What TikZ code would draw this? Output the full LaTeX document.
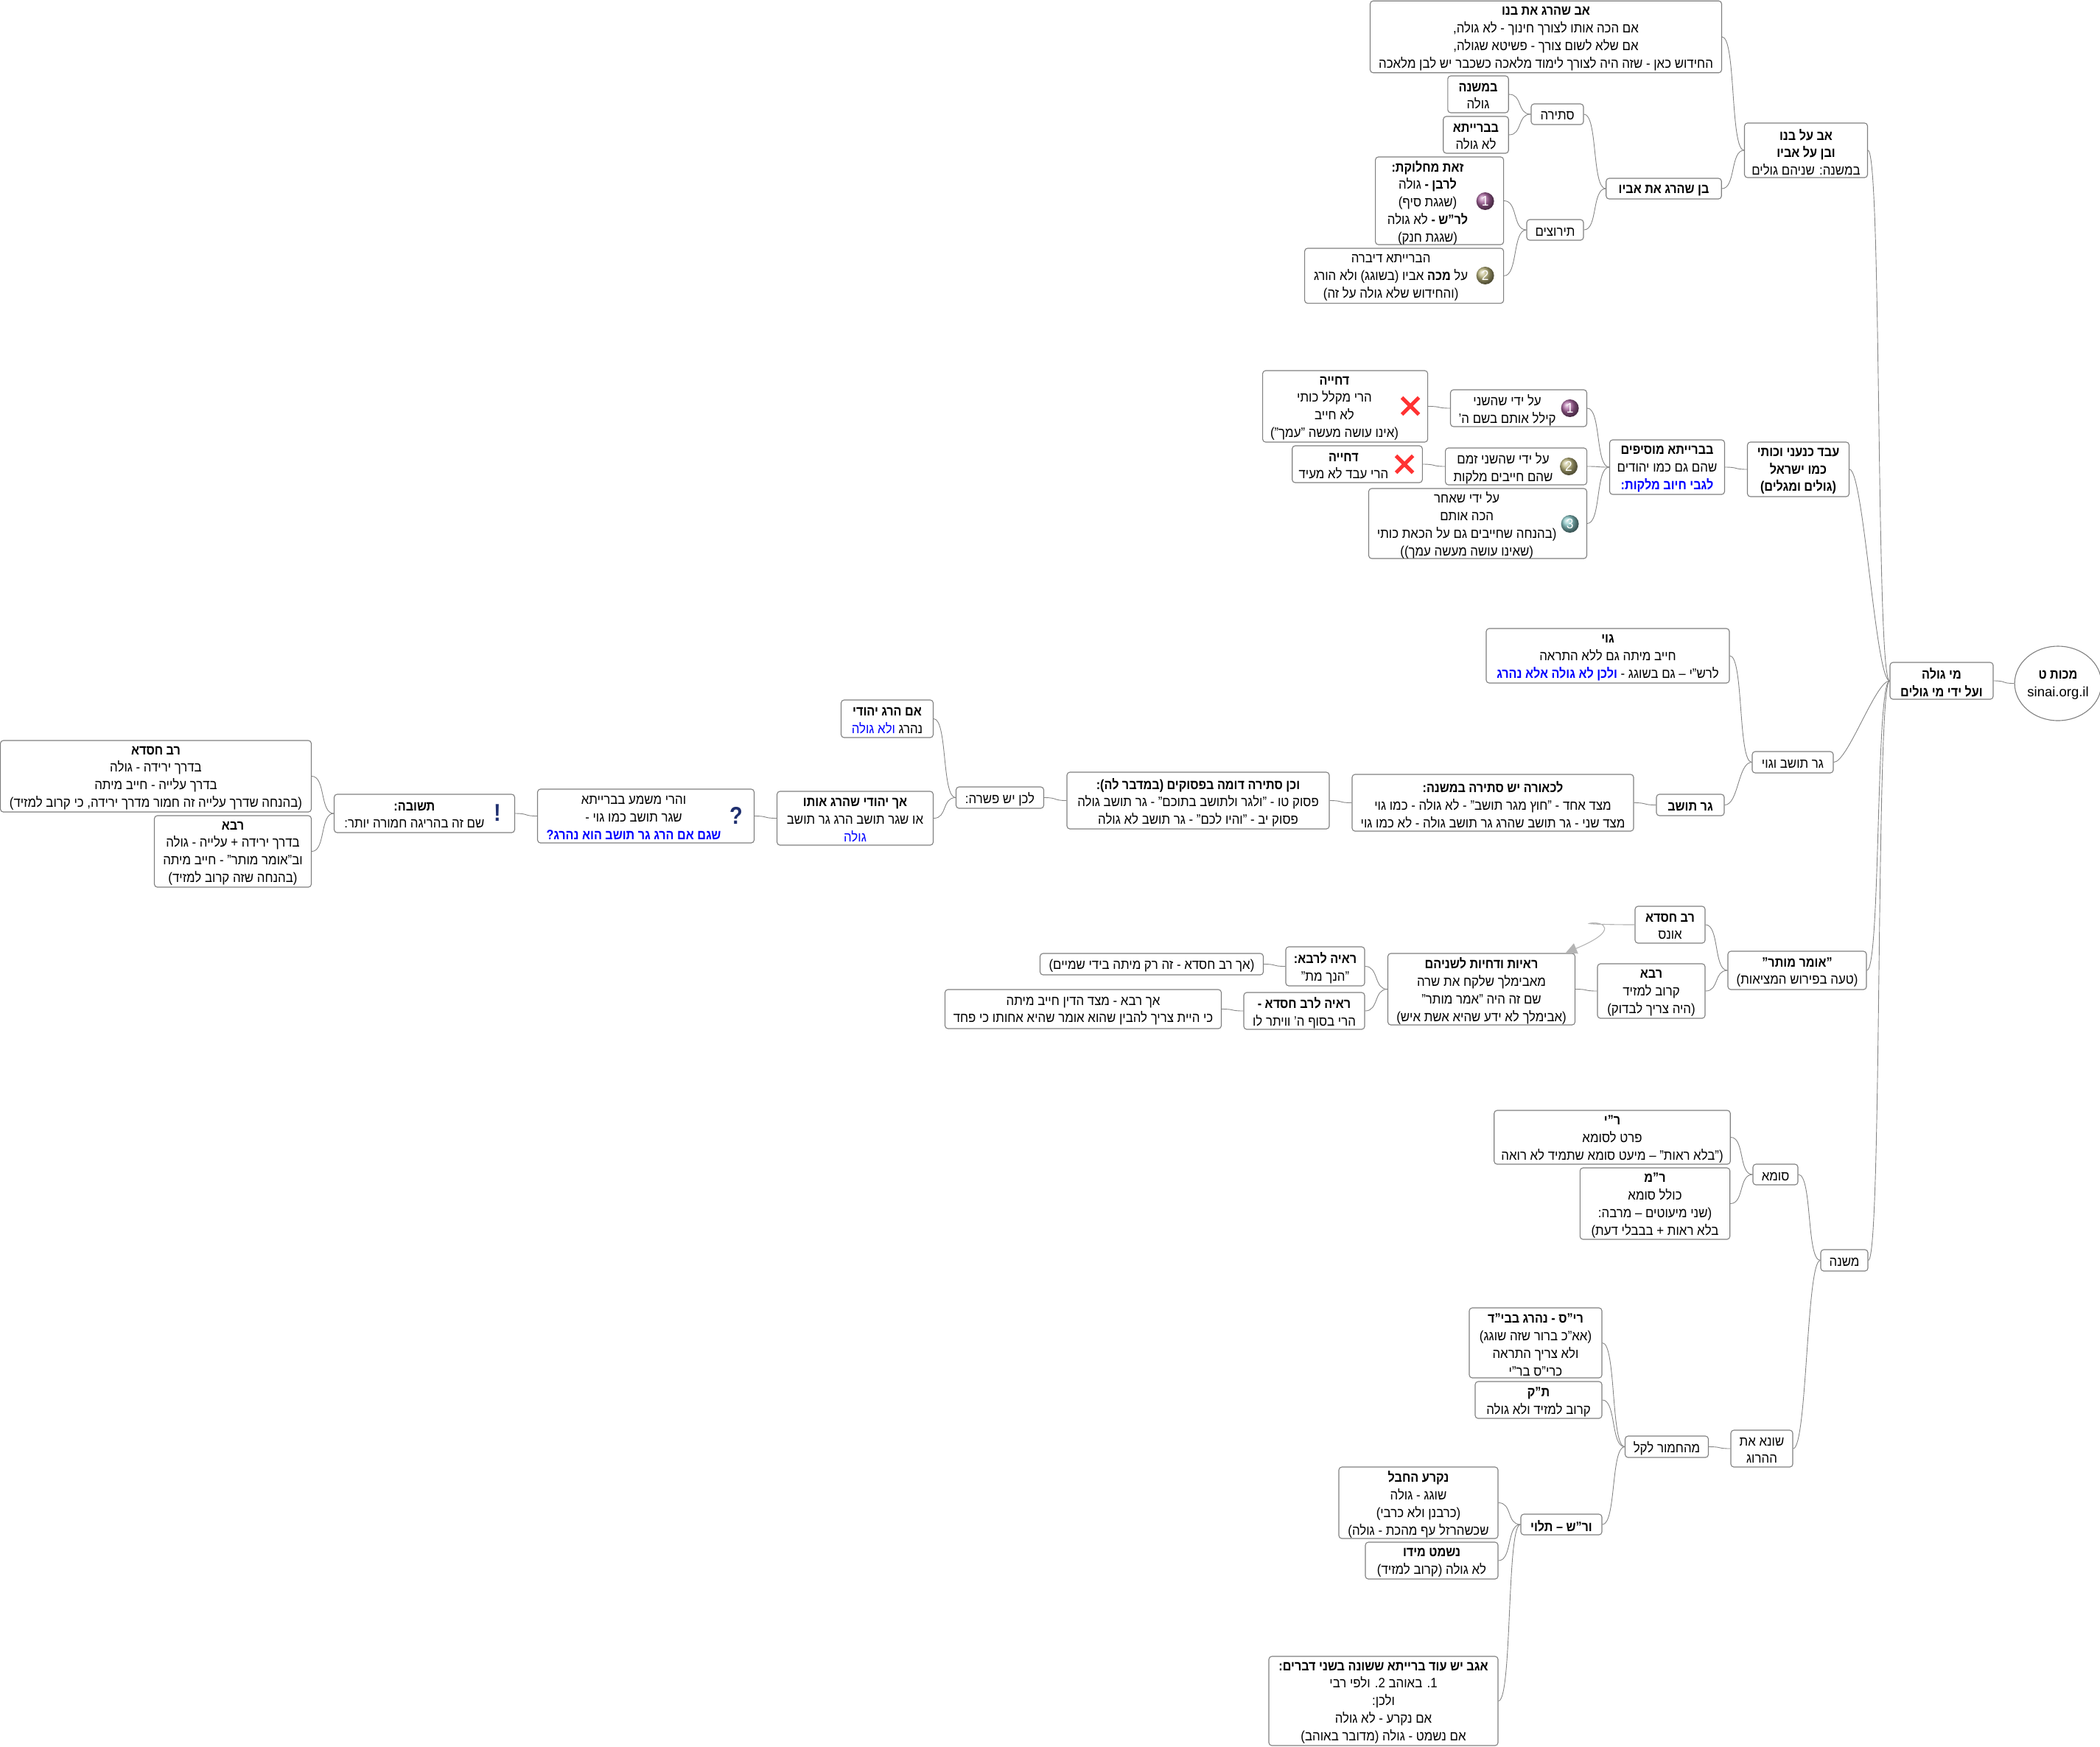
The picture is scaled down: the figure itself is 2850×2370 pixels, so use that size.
\documentclass[tikz,border=0pt]{standalone}
\usepackage{fontspec}
\setmainfont{Liberation Sans}[Script=Hebrew, FakeStretch=0.91, BoldFeatures={FakeStretch=0.875}]
\newfontfamily\sitefont{Liberation Sans}
\usetikzlibrary{arrows.meta,shapes.geometric,shapes.misc}
\TeXXeTstate=1
\definecolor{boxgray}{HTML}{808080}
\definecolor{linkgray}{HTML}{858585}
\definecolor{jumpgray}{HTML}{B4B4B4}
\definecolor{markblue}{HTML}{1F2F6F}
\definecolor{ballone}{HTML}{A8649E}
\definecolor{balltwo}{HTML}{B8B27A}
\definecolor{ballthree}{HTML}{86C4C4}
\newcommand{\lowerit}[1]{\raisebox{-2.5pt}[\height][\depth]{#1}}
\newcommand{\heb}[1]{\lowerit{\beginR #1\endR}}
\newcommand{\hebb}[1]{\lowerit{\beginR\textbf{#1}\endR}}
\newcommand{\kachol}[1]{\beginL\textcolor{blue}{\beginR #1\endR}\endL}

\begin{document}
\begin{tikzpicture}[x=1pt, y=-1pt,
  topic/.style={draw=boxgray, fill=white, rounded corners=4pt, line width=1.1pt,
    align=center, inner sep=0pt, font=\fontsize{18.5}{23.8}\selectfont},
  bodytext/.style={align=center, inner sep=0pt, font=\fontsize{18.5}{23.8}\selectfont},
  link/.style={draw=linkgray, line width=0.9pt, out=0, in=180, distance=19pt},
  numball/.style={circle, inner sep=0pt, minimum size=24pt, text=white,
    font=\fontsize{19}{19}\selectfont},
  redx/.style={cross out, draw=red!80!white, line width=5pt, minimum size=18pt, inner sep=0pt},
  signmark/.style={inner sep=0pt, text=markblue, font=\fontsize{33}{33}\selectfont\bfseries}]
  \useasboundingbox (0,0) rectangle (2850,2370);

  % שורש
  \node[topic, ellipse, minimum width=112pt, minimum height=101pt] (root) at (2793,927.5)
    {\hebb{מכות ט}\\\lowerit{\sitefont sinai.org.il}};
  \node[topic, minimum width=140pt, minimum height=50pt] (migole) at (2635,924)
    {\hebb{מי גולה}\\\hebb{ועל ידי מי גולים}};

  % אב על בנו
  \node[topic, minimum width=167pt, minimum height=74pt] (abbeno) at (2451,204)
    {\hebb{אב על בנו}\\\hebb{ובן על אביו}\\\heb{במשנה: שניהם גולים}};
  \node[topic, minimum width=477pt, minimum height=97.5pt] (abharag) at (2098,50)
    {\hebb{אב שהרג את בנו}\\\heb{אם הכה אותו לצורך חינוך - לא גולה,}\\\heb{אם שלא לשום צורך - פשיטא שגולה,}\\\heb{החידוש כאן - שזה היה לצורך לימוד מלאכה כשכבר יש לבן מלאכה}};
  \node[topic, minimum width=156.5pt, minimum height=28pt] (benharag) at (2258,256)
    {\hebb{בן שהרג את אביו}};
  \node[topic, minimum width=71pt, minimum height=28pt] (stira) at (2113.5,155) {\heb{סתירה}};
  \node[topic, minimum width=77pt, minimum height=28pt] (tirutz) at (2110.5,312) {\heb{תירוצים}};
  \node[topic, minimum width=82.4pt, minimum height=50pt] (mishnaa) at (2006,128)
    {\hebb{במשנה}\\\heb{גולה}};
  \node[topic, minimum width=88.5pt, minimum height=50pt] (baraitaa) at (2003,183)
    {\hebb{בברייתא}\\\heb{לא גולה}};
  \node[topic, minimum width=174pt, minimum height=119pt] (zot) at (1953.6,272.5) {};
  \node[bodytext] (zottext) at (1937.5,272.5)
    {\hebb{זאת מחלוקת:}\\\heb{\textbf{לרבן -} גולה}\\\heb{(שגגת סיף)}\\\heb{\textbf{לר"ש  -}  לא גולה}\\\heb{(שגגת חנק)}};
  \node[numball, ball color=ballone] (ballzot) at (2015.6,273) {1};
  \node[topic, minimum width=270pt, minimum height=74.7pt] (dibra) at (1905.6,374.3) {};
  \node[bodytext] (dibratext) at (1887.6,374.3)
    {\heb{הברייתא דיברה}\\\heb{על \textbf{מכה} אביו (בשוגג) ולא הורג}\\\heb{(והחידוש שלא גולה על זה)}};
  \node[numball, ball color=balltwo] (balldibra) at (2015.6,374) {2};

  % עבד כנעני
  \node[topic, minimum width=138pt, minimum height=74pt] (eved) at (2440.5,637)
    {\hebb{עבד כנעני וכותי}\\\hebb{כמו ישראל}\\\hebb{(גולים ומגלים)}};
  \node[topic, minimum width=156pt, minimum height=74pt] (mosifim) at (2262.5,634)
    {\hebb{בברייתא מוסיפים}\\\heb{שהם גם כמו יהודים}\\\textcolor{blue}{\hebb{לגבי חיוב מלקות:}}};
  \node[topic, minimum width=185pt, minimum height=50pt] (kilel) at (2061,554) {};
  \node[bodytext] (kileltext) at (2045.6,554) {\heb{על ידי שהשני}\\\heb{קילל אותם בשם ה'}};
  \node[numball, ball color=ballone] (ballkilel) at (2130.6,554) {1};
  \node[topic, minimum width=192pt, minimum height=50pt] (zamam) at (2057.6,633) {};
  \node[bodytext] (zamamtext) at (2040,633) {\heb{על ידי שהשני זמם}\\\heb{שהם חייבים מלקות}};
  \node[numball, ball color=balltwo] (ballzamam) at (2129,633) {2};
  \node[topic, minimum width=296pt, minimum height=95pt] (acher) at (2005.5,710.5) {};
  \node[bodytext] (achertext) at (1990.7,710.5)
    {\heb{על ידי שאחר}\\\heb{הכה אותם}\\\heb{(בהנחה שחייבים גם על הכאת כותי}\\\heb{(שאינו עושה מעשה עמך))}};
  \node[numball, ball color=ballthree] (ballacher) at (2130.6,711) {3};
  \node[topic, minimum width=224pt, minimum height=97pt] (dachuya) at (1825.6,551.5) {};
  \node[bodytext] (dachuyatext) at (1811,551.5)
    {\hebb{דחייה}\\\heb{הרי מקלל כותי}\\\heb{לא חייב}\\\heb{(אינו עושה מעשה "עמך")}};
  \node[redx] (xa) at (1914,551) {};
  \node[topic, minimum width=176.6pt, minimum height=50pt] (dachuyb) at (1842,630) {};
  \node[bodytext] (dachuybtext) at (1823.4,630) {\hebb{דחייה}\\\heb{הרי עבד לא מעיד}};
  \node[redx] (xb) at (1906,630) {};

  % גר תושב וגוי
  \node[topic, minimum width=110pt, minimum height=29pt] (gerveg) at (2433,1034.5) {\heb{גר תושב וגוי}};
  \node[topic, minimum width=330pt, minimum height=74pt] (goy) at (2182,890)
    {\hebb{גוי}\\\heb{חייב מיתה גם ללא התראה}\\\heb{לרש"י – גם בשוגג -  \kachol{\textbf{ולכן לא גולה אלא נהרג}}}};
  \node[topic, minimum width=92pt, minimum height=29pt] (ger) at (2294,1092.5) {\hebb{גר תושב}};
  \node[topic, minimum width=382pt, minimum height=77pt] (lichora) at (2026,1089.5)
    {\hebb{לכאורה יש סתירה במשנה:}\\\heb{מצד אחד - "חוץ מגר תושב" - לא גולה - כמו גוי}\\\heb{מצד שני - גר תושב שהרג גר תושב גולה - לא כמו גוי}};
  \node[topic, minimum width=356pt, minimum height=77pt] (vechen) at (1626,1086.5)
    {\hebb{וכן סתירה דומה בפסוקים (במדבר לה):}\\\heb{פסוק טו - "ולגר ולתושב בתוכם" - גר תושב גולה}\\\heb{פסוק יב - "והיו לכם" - גר תושב לא גולה}};
  \node[topic, minimum width=119pt, minimum height=29pt] (lachen) at (1357,1082.5) {\heb{לכן יש פשרה:}};
  \node[topic, minimum width=125pt, minimum height=51pt] (imharag) at (1204,975.5)
    {\hebb{אם הרג יהודי}\\\heb{נהרג \kachol{ולא גולה}}};
  \node[topic, minimum width=212pt, minimum height=73pt] (ach) at (1160.5,1110.5)
    {\hebb{אך יהודי שהרג אותו}\\\heb{או שגר תושב הרג גר תושב}\\\textcolor{blue}{\heb{גולה}}};
  \node[topic, minimum width=294pt, minimum height=73pt] (vaharei) at (876.5,1107.5) {};
  \node[bodytext] (vahareitext) at (860,1107.5)
    {\heb{והרי משמע בברייתא}\\\heb{שגר תושב כמו גוי -}\\\textcolor{blue}{\hebb{שגם אם הרג גר תושב הוא נהרג?}}};
  \node[signmark] (signq) at (999,1107) {?};
  \node[topic, minimum width=245pt, minimum height=52pt] (tshuva) at (576,1104) {};
  \node[bodytext] (tshuvatext) at (562.4,1104)
    {\hebb{תשובה:}\\\heb{שם זה בהריגה חמורה יותר:}};
  \node[signmark] (signe) at (675,1103) {!};
  \node[topic, minimum width=422pt, minimum height=97pt] (hisdaa) at (211.5,1053.5)
    {\hebb{רב חסדא}\\\heb{בדרך ירידה - גולה}\\\heb{בדרך עלייה - חייב מיתה}\\\heb{(בהנחה שדרך עלייה זה חמור מדרך ירידה,  כי קרוב למזיד)}};
  \node[topic, minimum width=213pt, minimum height=97pt] (ravaa) at (316,1155.5)
    {\hebb{רבא}\\\heb{בדרך ירידה + עלייה - גולה}\\\heb{וב"אומר מותר" - חייב מיתה}\\\heb{(בהנחה שזה קרוב למזיד)}};

  % אומר מותר
  \node[topic, minimum width=188pt, minimum height=52pt] (omer) at (2439,1317)
    {\hebb{"אומר מותר"}\\\heb{(טעה בפירוש המציאות)}};
  \node[topic, minimum width=95pt, minimum height=50pt] (hisdab) at (2266.5,1255)
    {\hebb{רב חסדא}\\\heb{אונס}};
  \node[topic, minimum width=146pt, minimum height=74pt] (ravab) at (2241,1345)
    {\hebb{רבא}\\\heb{קרוב למזיד}\\\heb{(היה צריך לבדוק)}};
  \node[topic, minimum width=254pt, minimum height=97pt] (reayot) at (2010.5,1342.5)
    {\hebb{ראיות ודחיות לשניהם}\\\heb{מאבימלך שלקח את שרה}\\\heb{שם זה היה "אמר מותר"}\\\heb{(אבימלך לא ידע שהיא אשת איש)}};
  \node[topic, minimum width=107pt, minimum height=53pt] (reayarava) at (1798.5,1311.5)
    {\hebb{ראיה לרבא:}\\\heb{"הנך מת"}};
  \node[topic, minimum width=164pt, minimum height=50pt] (reayahisda) at (1770,1372)
    {\hebb{ראיה לרב חסדא  -}\\\heb{הרי בסוף ה' וויתר לו}};
  \node[topic, minimum width=303pt, minimum height=29pt] (achhisda) at (1563,1308.5)
    {\heb{(אך רב חסדא - זה רק מיתה בידי שמיים)}};
  \node[topic, minimum width=375pt, minimum height=53pt] (achrava) at (1470,1369.5)
    {\heb{אך רבא - מצד הדין חייב מיתה}\\\heb{כי היית צריך להבין שהוא אומר שהיא אחותו כי פחד}};
  \coordinate (jumpend) at (2125,1293);

  % משנה
  \node[topic, minimum width=64pt, minimum height=29pt] (mishnab) at (2503,1710.5) {\heb{משנה}};
  \node[topic, minimum width=61pt, minimum height=28pt] (suma) at (2409.5,1594) {\heb{סומא}};
  \node[topic, minimum width=320.5pt, minimum height=73pt] (ry) at (2188,1543.5)
    {\hebb{ר"י}\\\heb{פרט לסומא}\\\heb{("בלא ראות" – מיעט סומא שתמיד לא רואה}};
  \node[topic, minimum width=203.4pt, minimum height=97pt] (rm) at (2246,1633.5)
    {\hebb{ר"מ}\\\heb{כולל סומא}\\\heb{(שני מיעוטים – מרבה:}\\\heb{בלא ראות  +  בבבלי דעת)}};
  \node[topic, minimum width=84pt, minimum height=50pt] (shone) at (2391,1966)
    {\heb{שונא את}\\\heb{ההרוג}};
  \node[topic, minimum width=113pt, minimum height=29pt] (mechomer) at (2262,1963.5) {\heb{מהחמור לקל}};
  \node[topic, minimum width=180pt, minimum height=95pt] (ris) at (2084,1822.5)
    {\hebb{רי"ס -  נהרג בבי"ד}\\\heb{(אא"כ ברור שזה שוגג)}\\\heb{ולא צריך התראה}\\\heb{כרי"ס בר"י}};
  \node[topic, minimum width=172pt, minimum height=50pt] (tk) at (2088,1900)
    {\hebb{ת"ק}\\\heb{קרוב למזיד ולא גולה}};
  \node[topic, minimum width=110pt, minimum height=28pt] (rash) at (2119,2069) {\hebb{ור"ש – תלוי}};
  \node[topic, minimum width=216pt, minimum height=97pt] (nikra) at (1925,2039.5)
    {\hebb{נקרע החבל}\\\heb{שוגג - גולה}\\\heb{(כרבנן ולא כרבי)}\\\heb{שכשהרזל עף מהכת - גולה)}};
  \node[topic, minimum width=180pt, minimum height=50pt] (nishmat) at (1943,2118)
    {\hebb{נשמט מידו}\\\heb{לא גולה (קרוב למזיד)}};
  \node[topic, minimum width=311pt, minimum height=121pt] (agav) at (1877.5,2308.5)
    {\hebb{אגב יש עוד ברייתא ששונה בשני דברים:}\\\heb{\beginL 1.\endL{}  באוהב \beginL 2.\endL{} ולפי רבי}\\\heb{ולכן:}\\\heb{אם נקרע - לא גולה}\\\heb{אם נשמט - גולה (מדובר באוהב)}};

  % קווים
  \foreach \kid/\parent in {migole/root, abbeno/migole, eved/migole, gerveg/migole, omer/migole, mishnab/migole,
      abharag/abbeno, benharag/abbeno, stira/benharag, tirutz/benharag, mishnaa/stira, baraitaa/stira,
      zot/tirutz, dibra/tirutz, mosifim/eved, kilel/mosifim, zamam/mosifim, acher/mosifim,
      dachuya/kilel, dachuyb/zamam, goy/gerveg, ger/gerveg, lichora/ger, vechen/lichora, lachen/vechen,
      imharag/lachen, ach/lachen, vaharei/ach, tshuva/vaharei, hisdaa/tshuva, ravaa/tshuva,
      hisdab/omer, ravab/omer, reayot/ravab, reayarava/reayot, reayahisda/reayot,
      achhisda/reayarava, achrava/reayahisda, suma/mishnab, shone/mishnab, ry/suma, rm/suma,
      mechomer/shone, ris/mechomer, tk/mechomer, rash/mechomer, nikra/rash, nishmat/rash, agav/rash}
    \draw[link] (\kid.east) to (\parent.west);
  \draw[draw=jumpgray, line width=1.1pt, -{Triangle[length=15pt,width=15pt]}] (hisdab.west)
    .. controls (2185,1255) and (2150,1254) .. (2158,1253)
    .. controls (2175,1250) and (2200,1262) .. (jumpend);
\end{tikzpicture}
\end{document}
